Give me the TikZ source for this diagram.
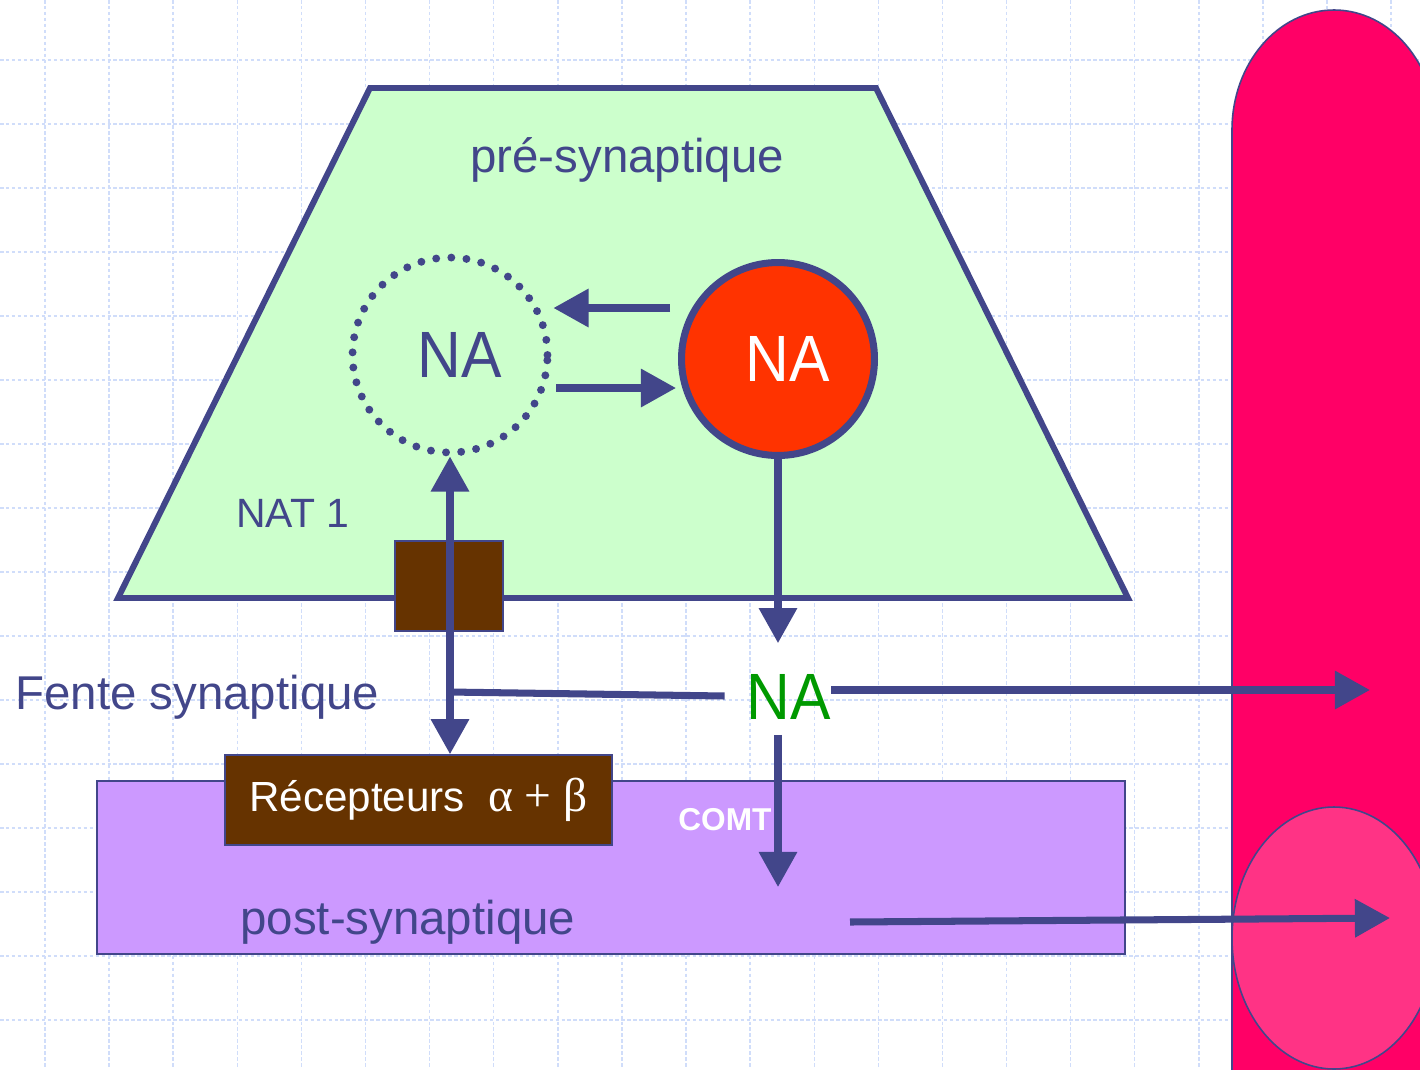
\documentclass[tikz,border=0pt]{standalone}
\usepackage{fontspec}
\setmainfont{Liberation Sans}
\newfontfamily\grkfont{Liberation Serif}
\usepackage{tikz}
\usetikzlibrary{arrows.meta}

\definecolor{navy}{RGB}{66,70,138}
\definecolor{gridblue}{RGB}{208,221,250}
\definecolor{mint}{RGB}{204,255,204}
\definecolor{lilac}{RGB}{204,153,255}
\definecolor{brownbox}{RGB}{102,51,0}
\definecolor{redpool}{RGB}{255,51,0}
\definecolor{vessel}{RGB}{255,0,102}
\definecolor{pinkcell}{RGB}{255,51,133}
\definecolor{greenNA}{RGB}{0,153,0}

\newcommand{\natag}{\hspace{0.38cm}\scalebox{1}[1.08]{NA}}

\begin{document}
\begin{tikzpicture}[x=0.02cm, y=0.02cm, >={Triangle[length=20pt,width=21pt]},
  gridline/.style={draw=gridblue, line width=0.8pt, dash pattern=on 2pt off 1.4pt},
  flow/.style={draw=navy, line width=4pt},
  lbl/.style={text=navy, inner sep=0pt, anchor=base west, font=\fontsize{27}{32}\selectfont},
  natext/.style={font=\fontsize{34.5}{42}\selectfont},
  vesicle/.style={circle, natext, text=navy, minimum size=3.9cm, draw=navy, line width=4.5pt,
    dash pattern=on 0pt off 8.64pt, line cap=round},
  pool/.style={circle, natext, text=white, minimum size=3.86cm, draw=navy, line width=4pt, fill=redpool},
  transp/.style={rectangle, draw=navy, line width=0.9pt, fill=brownbox, minimum width=2.16cm, minimum height=1.8cm},
  recbox/.style={rectangle, draw=navy, line width=0.9pt, fill=brownbox, text=white, inner sep=0pt,
    minimum width=7.74cm, minimum height=1.8cm, font=\fontsize{24}{29}\selectfont},
  postcell/.style={rectangle, draw=navy, line width=0.9pt, fill=lilac, inner sep=0pt,
    minimum width=20.56cm, minimum height=3.46cm}]

  % ===== Background grid =====
  \useasboundingbox (0,0) rectangle (1420,-1069);
  \fill[white] (0,0) rectangle (1420,-1069);
  \clip (0,0) rectangle (1420,-1069);
  \foreach \gx in {0,...,21}
    \draw[gridline] ({45+64.1*\gx},0) -- ({45+64.1*\gx},-1069);
  \foreach \gy in {0,...,15}
    \draw[gridline] (0,{-60-64*\gy}) -- (1420,{-60-64*\gy});

  % ===== Post-synaptic cell =====
  \node[postcell] (post) at (611,-867.5) {};

  % ===== Blood vessel =====
  \filldraw[draw=navy, line width=0.9pt, fill=vessel] (1232,-1080) -- (1232,-130)
    arc[start angle=180, end angle=0, x radius=102, y radius=120] -- (1436,-1080) -- cycle;
  \filldraw[draw=navy, line width=0.9pt, fill=pinkcell] (1334,-938) ellipse[x radius=102, y radius=131];

  % ===== Pre-synaptic terminal =====
  \filldraw[draw=navy, line width=3.4pt, fill=mint] (370,-88) -- (876,-88) -- (1128,-598) -- (118,-598) -- cycle;
  \node[lbl] (prelbl) at (470,-172) {pré-synaptique};
  \node[lbl, font=\fontsize{23.3}{28}\selectfont] (natlbl) at (236,-527) {NAT 1};
  \node[transp] (nat) at (449,-586) {};

  % vesicle and cytoplasmic pool
  \node[vesicle] (ves) at (450,-355) {\natag};
  \node[pool] (cyto) at (778,-359) {\natag};
  \draw[flow, ->] ([shift={(-8,51)}]cyto.west) -- ([shift={(2,47)}]ves.east);
  \draw[flow, ->] ([shift={(5,-33)}]ves.east) -- ([shift={(-2,-29)}]cyto.west);

  % ===== Synaptic cleft =====
  \node[lbl] (cleft) at (15,-709) {Fente synaptique};
  \node[natext, text=greenNA, inner sep=0pt] (naf) at (789,-697) {\scalebox{1}[1.08]{NA}};
  \node[recbox] (recep) at (418.5,-800) {Récepteurs\hspace{0.55em}{\grkfont\fontsize{27}{32}\selectfont α + β}};
  \node[text=white, inner sep=0pt, anchor=base west, font=\bfseries\fontsize{18}{21}\selectfont] (comt) at (678,-830) {COMT};
  \node[lbl] (postlbl) at (240,-934) {post-synaptique};

  \coordinate (join) at (449,-692);
  \coordinate (vein) at (1370,-690);
  \coordinate (comtend) at (778,-887);
  \coordinate (metab) at (850,-922);
  \coordinate (capil) at (1390,-918);

  % connectors
  \draw[flow, ->] (cyto.south) -- ([shift={(0,31)}]cyto.south |- naf.north);
  \draw[flow, <->] (ves.south) -- (ves.south |- recep.north);
  \draw[flow] ([shift={(-22,1)}]naf.west) -- (join);
  \draw[flow, ->] ([shift={(0,7)}]naf.east) -- (vein);
  \draw[flow, ->] ([shift={(0,-15)}]cyto.south |- naf.south) -- (comtend);
  \draw[flow, ->] (metab) -- (capil);
\end{tikzpicture}
\end{document}
